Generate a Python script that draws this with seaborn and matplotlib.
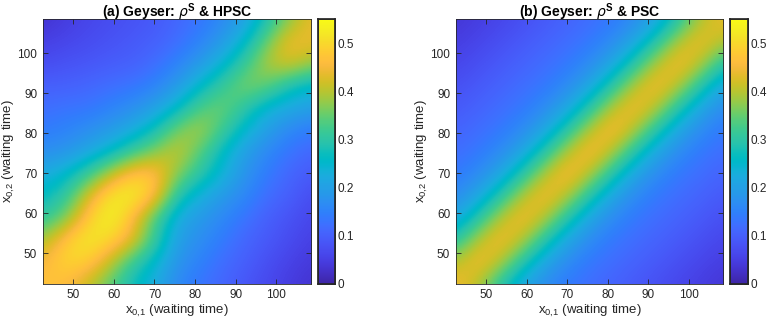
import numpy as np
import matplotlib
matplotlib.use("Agg")
import matplotlib.pyplot as plt
from matplotlib.colors import LinearSegmentedColormap
import seaborn as sns

# ---------------- data ----------------
# grid of waiting times (x: left->right, y: top->bottom)
x_grid = [42.5, 48, 53.5, 59, 64.5, 70, 75.5, 81, 86.5, 92, 97.5, 103, 108.5]
y_grid = [108.5, 103, 97.5, 92, 86.5, 81, 75.5, 70, 64.5, 59, 53.5, 48, 42.5]

# (a) rho^S & HPSC
rho_hpsc = [
    [0.03, 0.045, 0.06, 0.07, 0.08, 0.09, 0.11, 0.13, 0.16, 0.20, 0.28, 0.37, 0.44],
    [0.05, 0.06, 0.07, 0.08, 0.09, 0.10, 0.12, 0.15, 0.19, 0.25, 0.35, 0.45, 0.44],
    [0.07, 0.08, 0.085, 0.095, 0.10, 0.12, 0.15, 0.19, 0.24, 0.31, 0.40, 0.43, 0.38],
    [0.10, 0.10, 0.11, 0.12, 0.13, 0.15, 0.19, 0.25, 0.31, 0.37, 0.35, 0.28, 0.25],
    [0.12, 0.13, 0.13, 0.15, 0.17, 0.20, 0.25, 0.33, 0.36, 0.30, 0.24, 0.22, 0.20],
    [0.14, 0.15, 0.17, 0.19, 0.22, 0.27, 0.36, 0.40, 0.32, 0.25, 0.20, 0.16, 0.14],
    [0.17, 0.18, 0.21, 0.25, 0.31, 0.37, 0.42, 0.34, 0.26, 0.20, 0.16, 0.13, 0.11],
    [0.22, 0.25, 0.31, 0.40, 0.48, 0.48, 0.37, 0.30, 0.24, 0.18, 0.14, 0.11, 0.09],
    [0.26, 0.30, 0.42, 0.52, 0.54, 0.47, 0.29, 0.23, 0.19, 0.16, 0.12, 0.10, 0.07],
    [0.30, 0.36, 0.48, 0.55, 0.46, 0.33, 0.22, 0.19, 0.16, 0.13, 0.10, 0.08, 0.06],
    [0.39, 0.48, 0.53, 0.50, 0.44, 0.31, 0.20, 0.17, 0.14, 0.11, 0.09, 0.07, 0.05],
    [0.45, 0.50, 0.49, 0.41, 0.31, 0.25, 0.18, 0.15, 0.12, 0.10, 0.075, 0.055, 0.04],
    [0.47, 0.46, 0.41, 0.34, 0.27, 0.22, 0.16, 0.13, 0.11, 0.085, 0.065, 0.045, 0.03],
]

# (b) rho^S & PSC
rho_psc = [
    [0.035, 0.047, 0.06, 0.075, 0.09, 0.105, 0.12, 0.135, 0.165, 0.21, 0.29, 0.40, 0.44],
    [0.047, 0.06, 0.075, 0.09, 0.105, 0.12, 0.135, 0.165, 0.21, 0.29, 0.40, 0.45, 0.40],
    [0.06, 0.075, 0.09, 0.105, 0.12, 0.135, 0.165, 0.21, 0.29, 0.40, 0.46, 0.40, 0.29],
    [0.075, 0.09, 0.105, 0.12, 0.135, 0.165, 0.21, 0.29, 0.40, 0.46, 0.40, 0.29, 0.21],
    [0.09, 0.105, 0.12, 0.135, 0.165, 0.21, 0.29, 0.40, 0.46, 0.40, 0.29, 0.21, 0.165],
    [0.105, 0.12, 0.135, 0.165, 0.21, 0.29, 0.40, 0.47, 0.40, 0.29, 0.21, 0.165, 0.135],
    [0.12, 0.135, 0.165, 0.21, 0.29, 0.40, 0.47, 0.40, 0.29, 0.21, 0.165, 0.135, 0.12],
    [0.135, 0.165, 0.21, 0.29, 0.40, 0.47, 0.40, 0.29, 0.21, 0.165, 0.135, 0.12, 0.105],
    [0.165, 0.21, 0.29, 0.40, 0.46, 0.40, 0.29, 0.21, 0.165, 0.135, 0.12, 0.105, 0.09],
    [0.21, 0.29, 0.40, 0.46, 0.40, 0.29, 0.21, 0.165, 0.135, 0.12, 0.105, 0.09, 0.075],
    [0.29, 0.40, 0.46, 0.40, 0.29, 0.21, 0.165, 0.135, 0.12, 0.105, 0.09, 0.075, 0.06],
    [0.40, 0.46, 0.40, 0.29, 0.21, 0.165, 0.135, 0.12, 0.105, 0.09, 0.075, 0.06, 0.047],
    [0.45, 0.40, 0.29, 0.21, 0.165, 0.135, 0.12, 0.105, 0.09, 0.075, 0.06, 0.047, 0.035],
]

axis_ticks = [50, 60, 70, 80, 90, 100]
cbar_ticks = [0, 0.1, 0.2, 0.3, 0.4, 0.5]
cbar_labels = ["0", "0.1", "0.2", "0.3", "0.4", "0.5"]
titles = [r"(a) Geyser: $\rho^{\mathbf{S}}$ & HPSC", r"(b) Geyser: $\rho^{\mathbf{S}}$ & PSC"]
xlabel = r"$\mathregular{x_{0{,}1}}$ (waiting time)"
ylabel = r"$\mathregular{x_{0{,}2}}$ (waiting time)"
vmin, vmax = 0.0, 0.55

# ---------------- style ----------------
parula_rgb = [
    (0.2422, 0.1504, 0.6603), (0.2504, 0.1650, 0.7076), (0.2578, 0.1818, 0.7511),
    (0.2647, 0.1978, 0.7952), (0.2706, 0.2147, 0.8364), (0.2751, 0.2342, 0.8710),
    (0.2783, 0.2559, 0.8991), (0.2803, 0.2782, 0.9221), (0.2813, 0.3006, 0.9414),
    (0.2810, 0.3228, 0.9579), (0.2795, 0.3447, 0.9717), (0.2760, 0.3667, 0.9829),
    (0.2699, 0.3892, 0.9906), (0.2602, 0.4123, 0.9952), (0.2440, 0.4358, 0.9988),
    (0.2206, 0.4603, 0.9973), (0.1963, 0.4847, 0.9892), (0.1834, 0.5074, 0.9798),
    (0.1786, 0.5289, 0.9682), (0.1764, 0.5499, 0.9520), (0.1687, 0.5703, 0.9359),
    (0.1540, 0.5902, 0.9218), (0.1460, 0.6091, 0.9079), (0.1380, 0.6276, 0.8973),
    (0.1248, 0.6459, 0.8883), (0.1113, 0.6635, 0.8763), (0.0952, 0.6798, 0.8598),
    (0.0689, 0.6948, 0.8394), (0.0297, 0.7082, 0.8163), (0.0036, 0.7203, 0.7917),
    (0.0067, 0.7312, 0.7660), (0.0433, 0.7411, 0.7394), (0.0964, 0.7500, 0.7120),
    (0.1408, 0.7584, 0.6842), (0.1717, 0.7670, 0.6554), (0.1938, 0.7758, 0.6251),
    (0.2161, 0.7843, 0.5923), (0.2470, 0.7918, 0.5567), (0.2906, 0.7973, 0.5188),
    (0.3406, 0.8008, 0.4789), (0.3909, 0.8029, 0.4354), (0.4456, 0.8024, 0.3909),
    (0.5044, 0.7993, 0.3480), (0.5616, 0.7942, 0.3045), (0.6174, 0.7876, 0.2612),
    (0.6720, 0.7793, 0.2227), (0.7242, 0.7698, 0.1910), (0.7738, 0.7598, 0.1646),
    (0.8203, 0.7498, 0.1535), (0.8634, 0.7406, 0.1596), (0.9035, 0.7330, 0.1774),
    (0.9393, 0.7288, 0.2100), (0.9728, 0.7298, 0.2394), (0.9956, 0.7434, 0.2371),
    (0.9970, 0.7659, 0.2199), (0.9952, 0.7893, 0.2028), (0.9892, 0.8136, 0.1885),
    (0.9786, 0.8386, 0.1766), (0.9676, 0.8639, 0.1643), (0.9610, 0.8890, 0.1537),
    (0.9597, 0.9135, 0.1423), (0.9628, 0.9373, 0.1265), (0.9691, 0.9606, 0.1064),
    (0.9769, 0.9839, 0.0805),
]
parula = LinearSegmentedColormap.from_list("parula", parula_rgb, N=256)

sns.set_theme(style="white")
plt.rcParams["font.family"] = ["Liberation Sans", "DejaVu Sans"]
plt.rcParams["mathtext.fontset"] = "custom"
plt.rcParams["mathtext.rm"] = "Liberation Sans"
plt.rcParams["mathtext.bf"] = "Liberation Sans:bold"
plt.rcParams["mathtext.it"] = "DejaVu Sans:italic"

W, H = 767, 323
fig = plt.figure(figsize=(W / 100, H / 100), dpi=100)

def frac(x0, y0, x1, y1):
    return [x0 / W, 1 - y1 / H, (x1 - x0) / W, (y1 - y0) / H]

panels = [
    (rho_hpsc, frac(42.7, 19.3, 311.0, 283.5), frac(318.3, 19.3, 335.0, 283.5)),
    (rho_psc, frac(455.7, 19.3, 723.3, 283.5), frac(730.0, 19.3, 747.7, 283.5)),
]

grey = "#262626"
dx = x_grid[1] - x_grid[0]
dy = y_grid[0] - y_grid[1]

for k, (vals, ax_rect, cb_rect) in enumerate(panels):
    ax = fig.add_axes(ax_rect)
    cax = fig.add_axes(cb_rect)
    img = ax.imshow(np.asarray(vals), cmap=parula, vmin=vmin, vmax=vmax,
                    interpolation="bicubic", interpolation_stage="data",
                    origin="upper", aspect="auto",
                    extent=[x_grid[0] - dx / 2, x_grid[-1] + dx / 2,
                            y_grid[-1] - dy / 2, y_grid[0] + dy / 2])
    ax.set_xlim(x_grid[0], x_grid[-1])
    ax.set_ylim(y_grid[-1], y_grid[0])
    ax.set_xticks(axis_ticks)
    ax.set_yticks(axis_ticks)
    ax.set_xticklabels([str(t) for t in axis_ticks])
    ax.set_yticklabels([str(t) for t in axis_ticks])
    for s in ax.spines.values():
        s.set_visible(True)
        s.set_color(grey)
        s.set_linewidth(0.6)
    ax.tick_params(direction="in", length=3.5, width=0.6, color=grey,
                   top=True, right=True, bottom=True, left=True,
                   labelsize=8.5, labelcolor=grey, pad=4)
    ax.set_xlabel(xlabel, fontsize=9.5, color=grey, labelpad=1)
    ax.set_ylabel(ylabel, fontsize=9.5, color=grey, labelpad=0)
    ax.set_title(titles[k], fontsize=10, fontweight="bold", color="black", pad=2)

    cb = fig.colorbar(img, cax=cax)
    cb.outline.set_linewidth(0.6)
    cb.outline.set_edgecolor(grey)
    cb.set_ticks(cbar_ticks)
    cb.set_ticklabels(cbar_labels)
    cax.tick_params(direction="in", length=3, width=0.6, color=grey,
                    labelsize=8.5, labelcolor=grey, right=True, left=False, pad=2)

sns.despine(fig=fig, top=False, right=False, left=False, bottom=False)
fig.savefig("out.png", dpi=100)
